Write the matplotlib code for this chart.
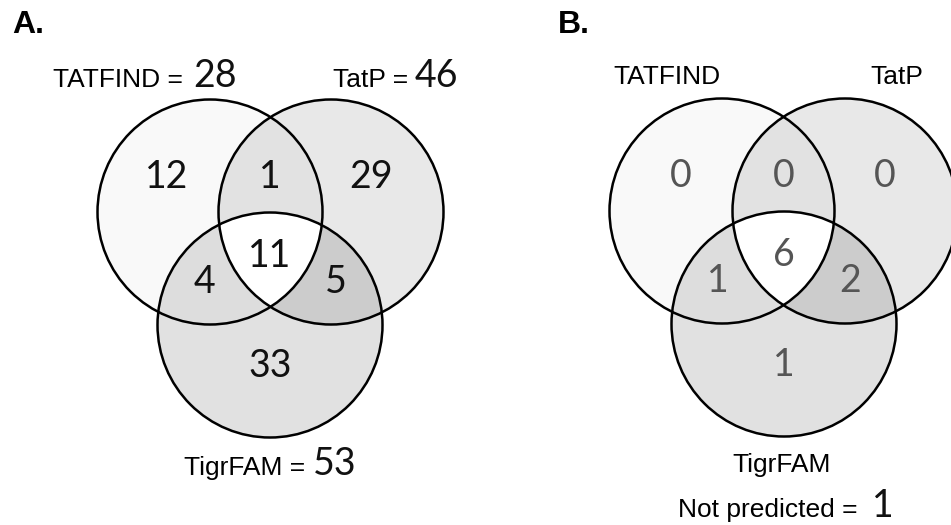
import numpy as np
import matplotlib
matplotlib.use("Agg")
import matplotlib.pyplot as plt
from matplotlib.patches import Circle

# region counts: (TATFIND only, TATFIND&TatP, TatP only, all three,
#                 TATFIND&TigrFAM, TatP&TigrFAM, TigrFAM only)
region_keys = ["a", "ab", "b", "abc", "ac", "bc", "c"]
counts_a = [12, 1, 29, 11, 4, 5, 33]
counts_b = [0, 0, 0, 6, 1, 2, 1]
set_names = ["TATFIND", "TatP", "TigrFAM"]
totals_a = [28, 46, 53]
not_predicted_b = 1

# layout (pixel coordinates, y downwards)
R = 112.5
centers_a = [(210, 212), (331, 212), (270, 325)]
centers_b = [(722, 211), (845, 211), (784, 324)]
# count label offsets from the bottom circle centre
label_off = {"a": (-103, -148), "ab": (0, -148), "b": (101, -148), "abc": (0, -69),
             "ac": (-66, -43), "bc": (66, -43), "c": (0, 41)}
fills = {"a": 0.98, "b": 0.91, "c": 0.88, "ab": 0.885, "ac": 0.87, "bc": 0.80, "abc": 1.0}

W, H = 951, 525
fig = plt.figure(figsize=(W / 100, H / 100), dpi=100)
ax = fig.add_axes([0, 0, 1, 1])
ax.set_xlim(0, W)
ax.set_ylim(H, 0)
ax.axis("off")

num_font = ["Lato", "DejaVu Sans"]
lab_font = ["Liberation Sans", "DejaVu Sans"]

# background image with region shading
yy, xx = np.mgrid[0:H * 2, 0:W * 2] / 2.0
img = np.ones((H * 2, W * 2))
for centers in (centers_a, centers_b):
    inside = [((xx - cx) ** 2 + (yy - cy) ** 2) <= R ** 2 for cx, cy in centers]
    a, b, c = inside
    img[a & ~b & ~c] = fills["a"]
    img[b & ~a & ~c] = fills["b"]
    img[c & ~a & ~b] = fills["c"]
    img[a & b & ~c] = fills["ab"]
    img[a & c & ~b] = fills["ac"]
    img[b & c & ~a] = fills["bc"]
    img[a & b & c] = fills["abc"]
ax.imshow(img, cmap="gray", vmin=0, vmax=1, extent=(0, W, H, 0),
          interpolation="bilinear", zorder=0)

for centers in (centers_a, centers_b):
    for cx, cy in centers:
        ax.add_patch(Circle((cx, cy), R, fill=False, ec="black", lw=1.8, zorder=2))


def put_counts(centers, counts, color):
    cx, cy = centers[2]
    for key, n in zip(region_keys, counts):
        dx, dy = label_off[key]
        ax.text(cx + dx, cy + dy, str(n), fontsize=27, color=color,
                family=num_font, ha="center", va="center", zorder=3)


put_counts(centers_a, counts_a, "#111111")
put_counts(centers_b, counts_b, "#555555")

# panel letters
ax.text(12, 33, "A.", fontsize=23, fontweight="bold", family=lab_font, va="baseline")
ax.text(558, 33, "B.", fontsize=23, fontweight="bold", family=lab_font, va="baseline")

# panel A set labels with totals
ax.text(183, 87, set_names[0] + " =", fontsize=19, family=lab_font, va="baseline", ha="right")
ax.text(193, 87, str(totals_a[0]), fontsize=27, family=num_font, color="#111111", va="baseline")
ax.text(408, 87, set_names[1] + " =", fontsize=19, family=lab_font, va="baseline", ha="right")
ax.text(415, 87, str(totals_a[1]), fontsize=27, family=num_font, color="#111111", va="baseline")
ax.text(305, 475, set_names[2] + " =", fontsize=19, family=lab_font, va="baseline", ha="right")
ax.text(313, 475, str(totals_a[2]), fontsize=27, family=num_font, color="#111111", va="baseline")

# panel B set labels
ax.text(667, 84, set_names[0], fontsize=19, family=lab_font, va="baseline", ha="center")
ax.text(897, 84, set_names[1], fontsize=19, family=lab_font, va="baseline", ha="center")
ax.text(782, 472, set_names[2], fontsize=19, family=lab_font, va="baseline", ha="center")
ax.text(858, 517, "Not predicted =", fontsize=19, family=lab_font, va="baseline", ha="right")
ax.text(872, 517, str(not_predicted_b), fontsize=27, family=num_font, color="#111111",
        va="baseline")

fig.savefig("out.png", dpi=100)
